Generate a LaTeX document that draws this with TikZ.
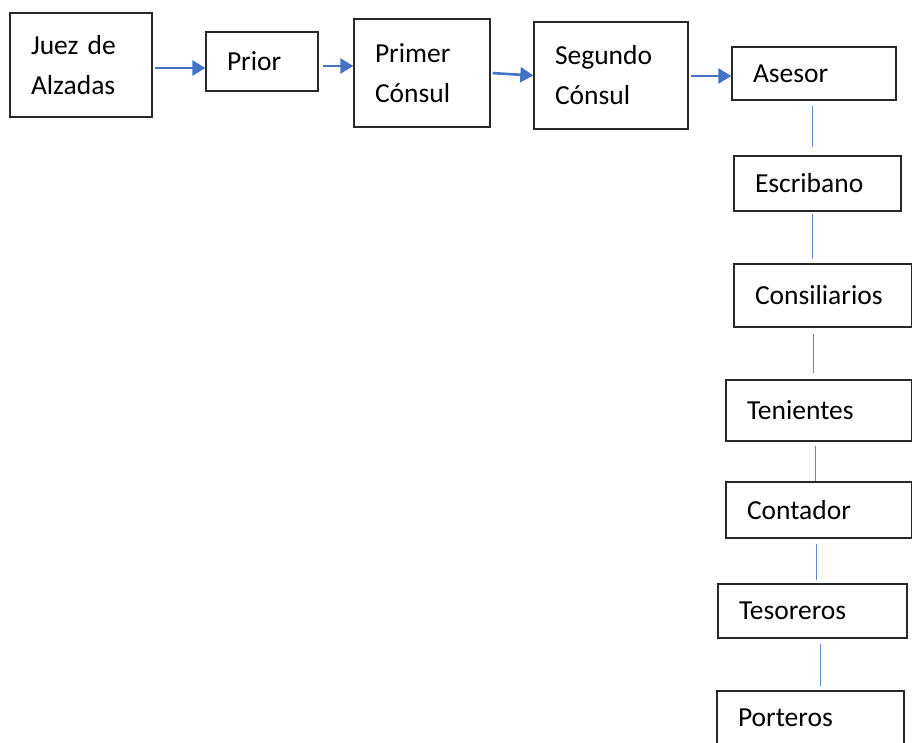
\documentclass[tikz,border=0pt]{standalone}
\usepackage{fontspec}
\setmainfont{Carlito}
\usetikzlibrary{arrows.meta,calc}
\definecolor{officeblue}{RGB}{68,114,196}
\definecolor{boxline}{RGB}{40,40,40}
\begin{document}
\begin{tikzpicture}[x=1pt,y=-1pt]
        \tikzstyle{box}=[draw=boxline, line width=1.3pt, align=left, inner xsep=21pt, inner ysep=0pt, font=\fontsize{27.5}{40}\selectfont]
        \tikzstyle{flow}=[officeblue, line width=2.6pt, -{Triangle[length=13pt,width=15pt]}]
        \tikzstyle{link}=[officeblue!85, line width=1pt]
        \useasboundingbox (0,0) rectangle (913,742);
        \clip (0,0) rectangle (913,742);
        % Top row of offices
        \node (juez)[box, text width=100pt, minimum height=104pt] at (81,65) {Juez de\\Alzadas};
        \node (prior)[box, text width=70pt, minimum height=59pt] at (262,61.5) {Prior};
        \node (primer)[box, text width=94pt, minimum height=108pt] at (422,73) {Primer\\Cónsul};
        \node (segundo)[box, text width=112pt, minimum height=107pt] at (611,75.5) {Segundo\\Cónsul};
        \node (asesor)[box, text width=122pt, minimum height=53pt] at (814,73.5) {Asesor};
        % Right column
        \node (escribano)[box, text width=125pt, minimum height=55pt] at (817.5,183.5) {Escribano};
        \node (consiliarios)[box, text width=135.5pt, minimum height=63pt] at (822.75,295.5) {Consiliarios};
        \node (tenientes)[box, text width=143.5pt, minimum height=61pt] at (818.75,410.5) {Tenientes};
        \node (contador)[box, text width=143.5pt, minimum height=56pt] at (818.75,510) {Contador};
        \node (tesoreros)[box, text width=147pt, minimum height=54pt] at (812.5,611) {Tesoreros};
        \node (porteros)[box, text width=145pt, minimum height=54pt] at (810.5,718) {Porteros};
        % Arrows along the top
        \draw[flow, shorten <=2pt] ([yshift=-3pt]juez.east) -- ([yshift=-3pt]juez.east -| prior.west);
        \draw[flow, shorten <=4pt] ([yshift=-4.5pt]prior.east) -- ([yshift=-4.5pt]prior.east -| primer.west);
        \draw[flow, shorten <=2pt] (primer.east) -- (segundo.west);
        \draw[flow, shorten <=2pt] ([yshift=-0.5pt]segundo.east) -- ([yshift=-0.5pt]segundo.east -| asesor.west);
        % Plain lines down the column
        \draw[link, shorten <=5pt, shorten >=8pt] ([xshift=-2pt]asesor.south) -- ([xshift=-2pt]asesor.south |- escribano.north);
        \draw[link, shorten <=2pt, shorten >=4pt] ([xshift=-5.5pt]escribano.south) -- ([xshift=-5.5pt]escribano.south |- consiliarios.north);
        \draw[link, shorten <=6pt, shorten >=6pt] ([xshift=-9pt]consiliarios.south) -- ([xshift=-9pt]consiliarios.south |- tenientes.north);
        \draw[link, shorten <=4pt, shorten >=0.5pt] ([xshift=-3pt]tenientes.south) -- ([xshift=-3pt]tenientes.south |- contador.north);
        \draw[link, shorten <=5pt, shorten >=3pt] ([xshift=-2pt]contador.south) -- ([xshift=-2pt]contador.south |- tesoreros.north);
        \draw[link, shorten <=5pt, shorten >=4pt] ([xshift=7.5pt]tesoreros.south) -- ([xshift=7.5pt]tesoreros.south |- porteros.north);
\end{tikzpicture}
\end{document}
